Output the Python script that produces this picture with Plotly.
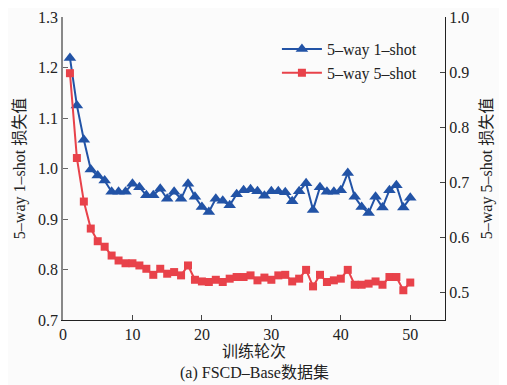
import plotly.graph_objects as go

epochs = list(range(1, 51))
loss_1shot = [1.219, 1.125, 1.057, 0.998, 0.986, 0.976, 0.954, 0.954, 0.954, 0.970,
              0.963, 0.947, 0.947, 0.960, 0.940, 0.954, 0.940, 0.970, 0.944, 0.924,
              0.914, 0.940, 0.936, 0.927, 0.949, 0.957, 0.959, 0.955, 0.946, 0.955,
              0.955, 0.953, 0.935, 0.955, 0.971, 0.918, 0.963, 0.954, 0.954, 0.957,
              0.991, 0.944, 0.924, 0.912, 0.944, 0.923, 0.957, 0.967, 0.923, 0.942]
loss_5shot = [0.898, 0.744, 0.665, 0.616, 0.593, 0.583, 0.567, 0.558, 0.553, 0.553,
              0.549, 0.543, 0.532, 0.543, 0.534, 0.537, 0.531, 0.549, 0.523, 0.520,
              0.519, 0.523, 0.519, 0.525, 0.528, 0.528, 0.531, 0.522, 0.527, 0.523,
              0.531, 0.532, 0.520, 0.525, 0.541, 0.511, 0.532, 0.519, 0.522, 0.525,
              0.541, 0.514, 0.514, 0.516, 0.520, 0.514, 0.528, 0.528, 0.504, 0.518]
x_ticks = [0, 10, 20, 30, 40, 50]
y1_ticks = [0.7, 0.8, 0.9, 1.0, 1.1, 1.2, 1.3]
y2_ticks = [0.5, 0.6, 0.7, 0.8, 0.9, 1.0]

BLUE = "#2253a6"
RED = "#e8424a"
FONT = "Liberation Serif, Times New Roman, Noto Sans CJK SC, serif"

fig = go.Figure()
fig.add_trace(go.Scatter(
    x=epochs, y=loss_1shot, name="5–way 1–shot", mode="lines+markers",
    line=dict(color=BLUE, width=2),
    marker=dict(symbol="triangle-up", size=11, color=BLUE),
    yaxis="y"))
fig.add_trace(go.Scatter(
    x=epochs, y=loss_5shot, name="5–way 5–shot", mode="lines+markers",
    line=dict(color=RED, width=2),
    marker=dict(symbol="square", size=8, color=RED),
    yaxis="y2"))

# page body has an 8px default margin; figure sized to fit the 507x385 window
fig.update_layout(
    width=499, height=377,
    margin=dict(l=55, r=62, t=9, b=65, autoexpand=False),
    paper_bgcolor="#fbfbfb", plot_bgcolor="#fbfbfb",
    font=dict(family=FONT, size=16, color="#222"),
    showlegend=True,
    legend=dict(x=0.56, y=0.95, xanchor="left", yanchor="top",
                bgcolor="rgba(0,0,0,0)", font=dict(size=16, family=FONT),
                tracegroupgap=0, itemwidth=40),
    xaxis=dict(range=[0, 55], tickvals=x_ticks, ticks="inside", ticklen=5,
               showline=True, linecolor="#222", linewidth=1.2, showgrid=False,
               zeroline=False, tickcolor="#444", automargin=False,
               title=dict(text="训练轮次", standoff=3,
                          font=dict(size=16, family=FONT))),
    yaxis=dict(range=[0.7, 1.3], tickvals=y1_ticks, tickformat=".1f",
               ticks="inside", ticklen=5, showline=True, linecolor="#888",
               linewidth=1.5, showgrid=False, zeroline=False, tickcolor="#666",
               automargin=False,
               title=dict(text="5–way 1–shot 损失值", standoff=8,
                          font=dict(size=16, family=FONT))),
    yaxis2=dict(range=[0.45, 1.0], tickvals=y2_ticks, tickformat=".1f",
                overlaying="y", side="right", ticks="inside", ticklen=5,
                showline=True, linecolor="#222", linewidth=1.2,
                showgrid=False, zeroline=False, tickcolor="#444",
                automargin=False,
                title=dict(text="5–way 5–shot 损失值", standoff=12,
                           font=dict(size=16, family=FONT))),
    annotations=[dict(text="(a) FSCD–Base数据集", xref="paper", yref="paper",
                      x=0.5, y=-0.174, xanchor="center", yanchor="middle",
                      showarrow=False, font=dict(size=16, family=FONT))],
)

fig.write_html("out.html")
